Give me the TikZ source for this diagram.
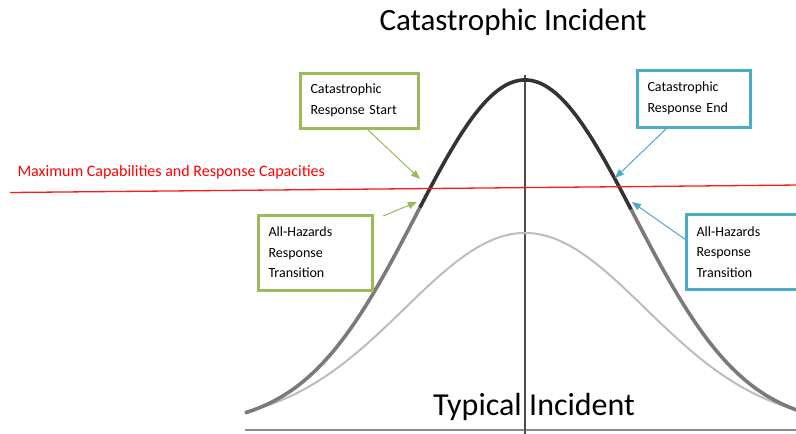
\documentclass[tikz,border=0pt]{standalone}
\usepackage{fontspec}
\setmainfont{Carlito}
\usetikzlibrary{arrows.meta}
\definecolor{boxgreen}{HTML}{9BBB59}
\definecolor{boxblue}{HTML}{4BACC6}
\definecolor{curvedark}{HTML}{333333}
\definecolor{curvegray}{HTML}{7A7A7A}
\definecolor{curvelight}{HTML}{BDBDBD}
\tikzset{
  callout/.style={draw, line width=3pt, fill=white, align=left, inner xsep=9pt,
    font=\fontsize{14}{20.5}\selectfont, anchor=center},
  greenbox/.style={callout, draw=boxgreen},
  bluebox/.style={callout, draw=boxblue},
  pointer/.style={line width=1pt, -{Triangle[length=9pt,width=7pt]}},
  bigtitle/.style={font=\fontsize{31}{36}\selectfont},
}
\begin{document}
\begin{tikzpicture}[x=1pt,y=-1pt]
\useasboundingbox (0,0) rectangle (796,434);
\fill[white] (0,0) rectangle (796,434);

% axes
\draw[line width=2.6pt, color=black!45] (245,430) -- (800,430);
\draw[line width=1.1pt, color=black!70] (525,75) -- (525,434);

% small (typical) curve
\draw[line width=2pt, color=curvelight, smooth]
  plot[domain=245:800, samples=120] (\x,{425-192*exp(-((\x-525)/100)^2/2.9)});

% large (catastrophic) curve: gray flanks, dark crest
\draw[line width=3.6pt, color=curvegray, smooth]
  plot[domain=245:421, samples=80] (\x,{426-346*exp(-((\x-525)/100)^2/2.4)});
\draw[line width=3.6pt, color=curvegray, smooth]
  plot[domain=630:800, samples=80] (\x,{426-346*exp(-((\x-525)/100)^2/2.4)});
\draw[line width=3.6pt, color=curvedark, smooth]
  plot[domain=420:631, samples=100] (\x,{426-346*exp(-((\x-525)/100)^2/2.4)});

% capacity threshold
\draw[line width=1.3pt, color=red!90] (10,192.5) -- (800,185);
\node[anchor=west, text=red, font=\fontsize{16}{18}\selectfont] (cap) at (14,172) {Maximum Capabilities and Response Capacities};

% titles
\node[bigtitle] (top) at (513,22) {Catastrophic Incident};
\node[font=\fontsize{32}{36}\selectfont, anchor=base east, inner sep=0pt] (typ1) at (522,415) {Typical};
\node[font=\fontsize{32}{36}\selectfont, anchor=base west, inner sep=0pt] (typ2) at (529,415) {Incident};

% callout boxes
\node[greenbox, minimum width=118pt, minimum height=55pt, text width=97pt] (crs) at (359,100.5) {Catastrophic\\Response Start};
\node[bluebox, minimum width=113pt, minimum height=57pt, text width=92pt] (cre) at (693.5,98.5) {Catastrophic\\Response End};
\node[greenbox, minimum width=114pt, minimum height=75pt, text width=93pt] (ahl) at (315,252.5) {All-Hazards\\Response\\Transition};
\node[bluebox, minimum width=112pt, minimum height=75pt, text width=91pt] (ahr) at (742,252) {All-Hazards\\Response\\Transition};

% points on the crest
\coordinate (p1) at (420,179);
\coordinate (p2) at (417,202);
\coordinate (p3) at (615,178);
\coordinate (p4) at (632,202);
\coordinate (s1) at (366,128);
\coordinate (s2) at (383,216);
\coordinate (s3) at (668,127);
\coordinate (s4) at (686,240);

\draw[pointer, color=boxgreen] (s1) -- (p1);
\draw[pointer, color=boxgreen] (s2) -- (p2);
\draw[pointer, color=boxblue] (s3) -- (p3);
\draw[pointer, color=boxblue] (s4) -- (p4);
\end{tikzpicture}
\end{document}
